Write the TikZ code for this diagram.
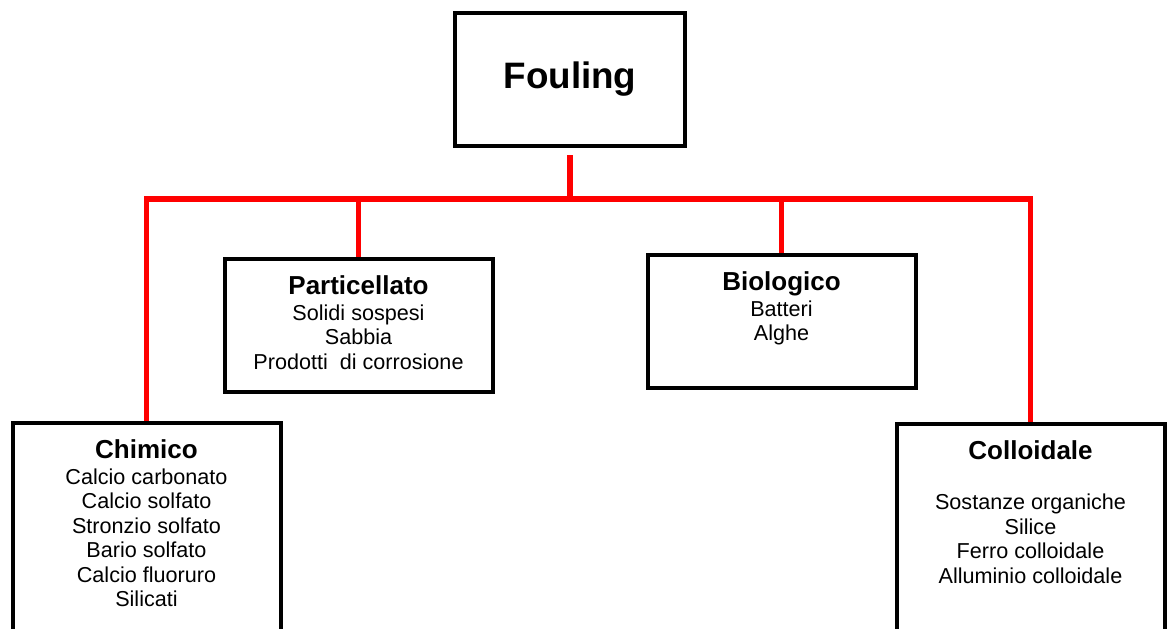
\documentclass[tikz,border=0pt]{standalone}
\usepackage{fontspec}
\setmainfont{Liberation Sans}
\newcommand{\headsize}{\fontsize{26}{30}\selectfont\bfseries}
\newcommand{\itemsize}{\fontsize{21.6}{24.4}\selectfont}
\newcommand{\catlist}[2]{\begin{tabular}[t]{@{}c@{}}{\headsize #1}\\[2pt]#2\end{tabular}}

\begin{document}
\begin{tikzpicture}[x=1pt,y=-1pt,
  level 1/.style={level distance=173.5pt,sibling distance=423pt},
  edge from parent/.style={draw=red,line width=5.5pt},
  edge from parent path={([yshift=-7pt]\tikzparentnode.south) -- ++(0pt,-44pt) -| (\tikzchildnode.north)},
  rootbox/.style={draw,line width=4pt,minimum width=230pt,minimum height=133pt,inner sep=0pt,font=\fontsize{36.8}{44}\selectfont\bfseries},
  catbox/.style={draw,line width=4pt,anchor=north,minimum width=268pt,inner xsep=0pt,inner ysep=16pt,text height=19pt,font=\itemsize}]
\path[use as bounding box,clip] (0,0) rectangle (1167,629);
\node [rootbox] (fouling) at (570,79.5) {Fouling}
  child {
  node [catbox,xshift=211pt,yshift=-168pt,text depth=180pt] (chimico)
    {\catlist{Chimico}{Calcio carbonato\\Calcio solfato\\Stronzio solfato\\Bario solfato\\Calcio fluoruro\\Silicati}}
  }
  child {
  node [catbox,yshift=-4pt,text depth=81.5pt] (partic)
    {\catlist{Particellato}{Solidi sospesi\\Sabbia\\Prodotti~ di corrosione}}
  }
  child {
  node [catbox,text depth=81.5pt] (biolog)
    {\catlist{Biologico}{Batteri\\Alghe}}
  }
  child {
  node [catbox,xshift=-174pt,yshift=-169pt,text depth=180pt] (colloid)
    {\catlist{Colloidale}{\\Sostanze organiche\\Silice\\Ferro colloidale\\Alluminio colloidale}}
  };
\end{tikzpicture}
\end{document}
